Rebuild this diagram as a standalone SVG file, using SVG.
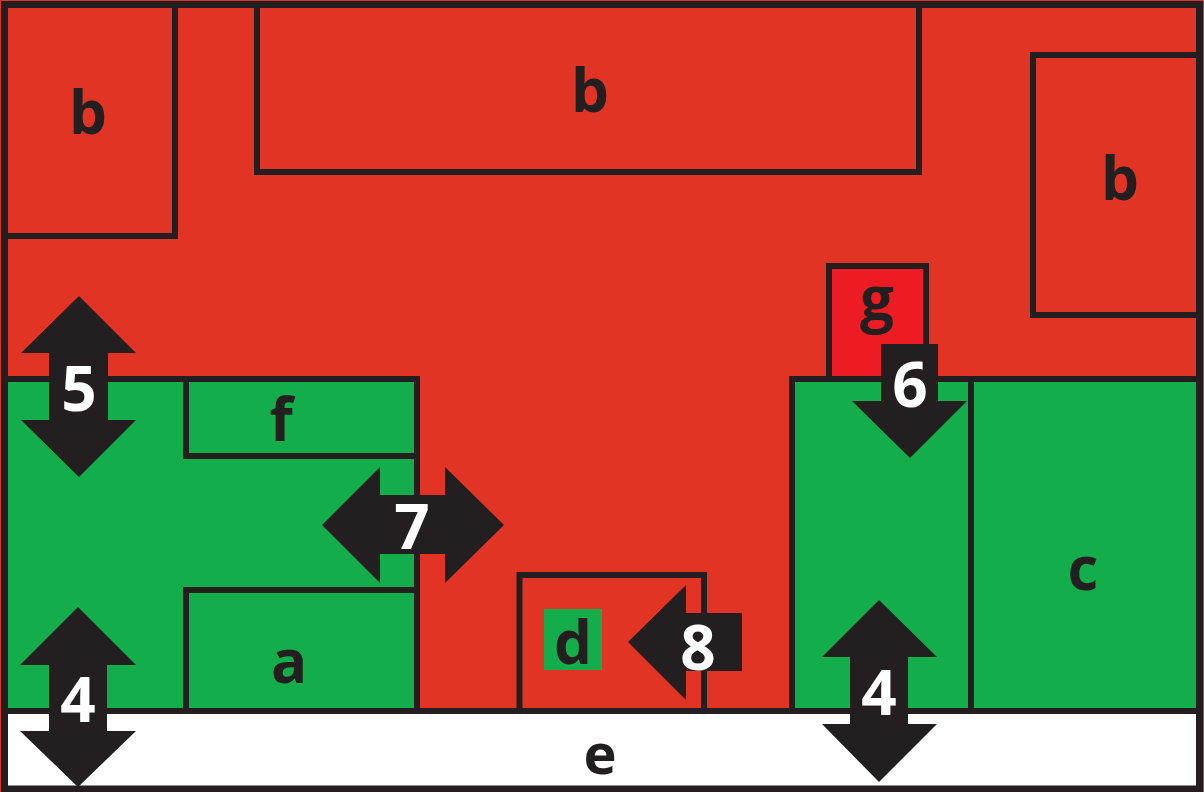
<svg xmlns="http://www.w3.org/2000/svg" width="1204" height="792" viewBox="0 0 1204 792">
  <style>
    .zone { stroke: #231F20; stroke-width: 6; }
    .red { fill: #E23425; }
    .green { fill: #13AE4B; }
    .arrow { fill: #231F20; }
    .lbl { font-family: "Open Sans", "Liberation Sans", sans-serif; font-weight: 700; font-size: 60px; text-anchor: middle; fill: #231F20; }
    .num { font-family: "Open Sans", "Liberation Sans", sans-serif; font-weight: 700; font-size: 62px; text-anchor: middle; fill: #FFFFFF; }
  </style>

  <!-- background field -->
  <rect x="0" y="0" width="1204" height="792" fill="#E23425"/>

  <!-- white strip e -->
  <g id="e">
    <rect x="4" y="711" width="1196" height="78" fill="#FFFFFF" class="zone"/>
    <text class="lbl" x="600" y="774" style="font-size:56px">e</text>
  </g>

  <!-- left green block -->
  <g id="green-left">
    <rect x="4" y="379" width="413" height="332" class="zone green"/>
  </g>
  <g id="f">
    <rect x="186" y="379" width="231" height="77" class="zone green"/>
    <text class="lbl" x="281" y="441">f</text>
  </g>
  <g id="a">
    <rect x="186" y="590" width="231" height="121" class="zone green"/>
    <text class="lbl" x="289" y="683">a</text>
  </g>

  <!-- right green blocks -->
  <g id="green-right">
    <rect x="792" y="379" width="179" height="332" class="zone green"/>
  </g>
  <g id="c">
    <rect x="971" y="379" width="229" height="332" class="zone green"/>
    <text class="lbl" x="1083" y="590">c</text>
  </g>

  <!-- red b boxes -->
  <g id="b-left">
    <rect x="4" y="4" width="171" height="232" class="zone red"/>
    <text class="lbl" x="88" y="134">b</text>
  </g>
  <g id="b-top">
    <rect x="257" y="4" width="662" height="168" class="zone red"/>
    <text class="lbl" x="590" y="112">b</text>
  </g>
  <g id="b-right">
    <rect x="1033" y="55" width="167" height="260" class="zone red"/>
    <text class="lbl" x="1120" y="200">b</text>
  </g>

  <!-- g box -->
  <g id="g">
    <rect x="829" y="266" width="97" height="113" class="zone" fill="#ED1C24"/>
    <text class="lbl" x="877" y="320">g</text>
  </g>

  <!-- d box -->
  <g id="d">
    <rect x="519.5" y="575" width="184.5" height="136" class="zone red"/>
    <rect x="544" y="609" width="58" height="61" class="green"/>
    <text class="lbl" x="573" y="664">d</text>
  </g>

  <!-- outer frame -->
  <rect x="4.5" y="4.5" width="1195" height="784.5" fill="none" stroke="#231F20" stroke-width="7"/>

  <!-- movement arrows -->
  <g id="connectors">
    <g id="arrow-5">
      <polygon class="arrow" points="79,296 136,353 108,353 108,420 136,420 79,477 21,420 49,420 49,353 21,353"/>
      <text class="num" x="79" y="411">5</text>
    </g>
    <g id="arrow-4-left">
      <polygon class="arrow" points="78,607 136,665 107,665 107,731 136,731 78,787 20,731 49,731 49,665 20,665"/>
      <text class="num" x="78" y="722">4</text>
    </g>
    <g id="arrow-4-right">
      <polygon class="arrow" points="879,600 937,657 908,657 908,724 937,724 879,782 822,724 850,724 850,657 822,657"/>
      <text class="num" x="879" y="715">4</text>
    </g>
    <g id="arrow-7">
      <polygon class="arrow" points="322,525 380,467 380,495 445,495 445,467 504,525 445,583 445,554 380,554 380,583"/>
      <text class="num" x="412" y="549">7</text>
    </g>
    <g id="arrow-8">
      <polygon class="arrow" points="628,642 686,585 686,613 742,613 742,671 686,671 686,700"/>
      <text class="num" x="698" y="670">8</text>
    </g>
    <g id="arrow-6">
      <polygon class="arrow" points="881,344 938,344 938,401 967,401 910,458 852,401 881,401"/>
      <text class="num" x="910" y="407">6</text>
    </g>
  </g>
</svg>
